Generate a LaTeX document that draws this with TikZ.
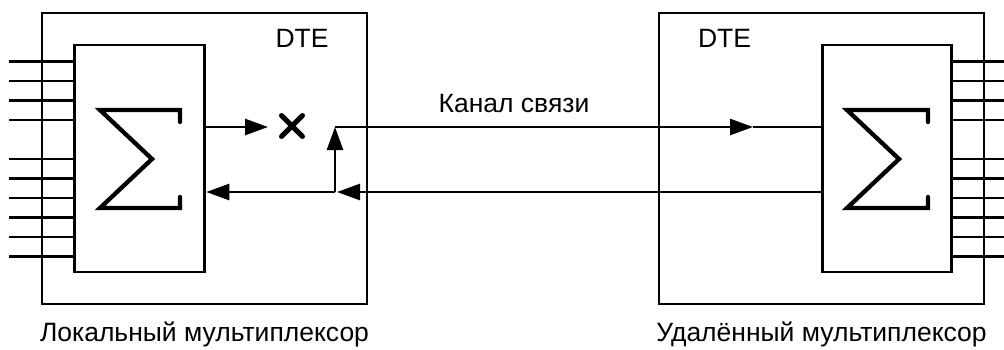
\documentclass[tikz,border=0pt]{standalone}
\usepackage{fontspec}
\setmainfont{Liberation Sans}
\usetikzlibrary{arrows.meta,shapes.misc}
\tikzset{
  ln/.style={line width=2.6pt},
  box/.style={draw,ln,rectangle,inner sep=0pt,outer sep=0pt},
  arr/.style={ln,-{Triangle[length=23pt,width=16pt]}},
  sig/.style={line width=4.3pt,line cap=round,line join=miter},
  txt/.style={font=\fontsize{26.5}{30}\selectfont,inner sep=0pt,anchor=base},
}
\begin{document}
\begin{tikzpicture}[x=1pt,y=-1pt]
\useasboundingbox (0,0) rectangle (1004,349);
% boxes
\node[box,minimum width=325pt,minimum height=291pt] (outL) at (204.5,158.5) {};
\node[box,minimum width=325pt,minimum height=291pt] (outR) at (821.5,158.5) {};
\node[box,minimum width=129.5pt,minimum height=227pt] (inL) at (139.5,158.5) {};
\node[box,minimum width=129.5pt,minimum height=227pt] (inR) at (887,158.5) {};
% sigma symbols
\draw[sig] (180,122) -- (180,110) -- (100,110) -- (152,159) -- (100,208) -- (180,208) -- (180,197);
\draw[sig] (928,122) -- (928,110) -- (847,110) -- (899,159) -- (847,208) -- (928,208) -- (928,197);
% input / output lines
\foreach \k in {0,1,2,3,5,6,7,8,9,10}{
  \coordinate (li\k) at (9,61.5+19.5*\k);
  \coordinate (ro\k) at (1004,61.5+19.5*\k);
  \draw[ln] (li\k) -- (inL.west |- li\k);
  \draw[ln] (inR.east |- ro\k) -- (ro\k);
}
% cross
\node[cross out,draw,line width=5pt,line cap=round,minimum size=21pt,inner sep=0pt,outer sep=0pt] (x) at (292,126) {};
% junction coordinates
\coordinate (jt) at (335,127);
\coordinate (jb) at (335,192);
\coordinate (jbt) at (337,192);
\coordinate (mt) at (753,127);
% connectors
\draw[arr,shorten >=13.5pt] (inL.east |- 0,127) -- (x.west |- 0,127);
\draw[arr] (jb) -- (jt);
\draw[arr] (jt) -- (mt);
\draw[ln] (mt) -- (inR.west |- mt);
\draw[arr] (inR.west |- jb) -- (jbt);
\draw[arr,shorten >=2pt] (jb) -- (inL.east |- jb);
% texts
\node[txt] (dteL) at (302,47) {DTE};
\node[txt] (dteR) at (724.5,47) {DTE};
\node[txt] (chan) at (514,112) {Канал связи};
\node[txt] (labL) at (204.5,341) {Локальный мультиплексор};
\node[txt] (labR) at (821.5,341) {Удалённый мультиплексор};
\end{tikzpicture}
\end{document}
